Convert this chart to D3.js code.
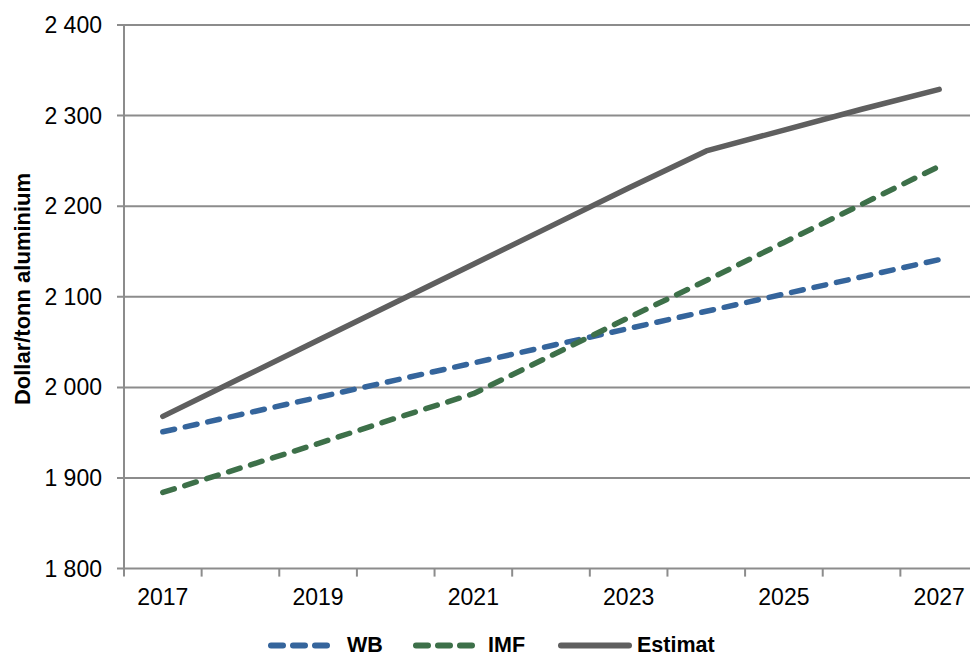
<!DOCTYPE html>
<html>
<head>
<meta charset="utf-8">
<script src="https://cdn.jsdelivr.net/npm/d3@7"></script>
<style>
  body { margin: 0; background: #fff; }
  svg { display: block; font-family: "Liberation Sans", Arial, sans-serif; }
</style>
</head>
<body>
<svg width="970" height="657"></svg>
<script>
const years = ["2017", "2018", "2019", "2020", "2021", "2022", "2023", "2024", "2025", "2026", "2027"];
const wb = [1951, 1970, 1989, 2008, 2027, 2046, 2065, 2084, 2103, 2122, 2141];
const imf = [1884, 1911, 1938, 1966, 1993, 2035, 2077, 2118, 2160, 2202, 2244];
const estimat = [1968, 2010, 2052, 2094, 2136, 2178, 2220, 2261, 2284, 2307, 2329];
const yTicks = [1800, 1900, 2000, 2100, 2200, 2300, 2400];
const xLabels = ["2017", "2019", "2021", "2023", "2025", "2027"];

const series = [
  { name: "WB", values: wb, color: "#35659c", dash: "12,11" },
  { name: "IMF", values: imf, color: "#3d7049", dash: "12,11" },
  { name: "Estimat", values: estimat, color: "#5f5f5f", dash: null }
];

const svg = d3.select("svg");
const plotLeft = 124, plotTop = 25, plotRight = 978, plotBottom = 568.6;
const gridColor = "#8c8c8c";

const x = d3.scaleBand().domain(years).range([plotLeft, plotRight]);
const y = d3.scaleLinear().domain([1800, 2400]).range([plotBottom, plotTop]);
const yFormat = v => d3.format(",")(v).replace(",", " ");

// gridlines
svg.append("g")
  .selectAll("line")
  .data(yTicks)
  .enter()
  .append("line")
  .attr("x1", plotLeft - 7)
  .attr("x2", plotRight)
  .attr("y1", d => y(d))
  .attr("y2", d => y(d))
  .attr("stroke", gridColor)
  .attr("stroke-width", 2);

// y axis line
svg.append("line")
  .attr("x1", plotLeft).attr("x2", plotLeft)
  .attr("y1", plotTop).attr("y2", plotBottom + 7)
  .attr("stroke", gridColor)
  .attr("stroke-width", 2);

// x tick marks between categories
const bounds = years.map(d => x(d)).concat([plotRight]);
svg.append("g")
  .selectAll("line")
  .data(bounds)
  .enter()
  .append("line")
  .attr("x1", d => d).attr("x2", d => d)
  .attr("y1", plotBottom).attr("y2", plotBottom + 8)
  .attr("stroke", gridColor)
  .attr("stroke-width", 2);

// y tick labels
svg.append("g")
  .selectAll("text")
  .data(yTicks)
  .enter()
  .append("text")
  .attr("x", 102)
  .attr("y", d => y(d) + 8)
  .attr("text-anchor", "end")
  .attr("font-size", 23)
  .text(d => yFormat(d));

// x labels
svg.append("g")
  .selectAll("text")
  .data(xLabels)
  .enter()
  .append("text")
  .attr("x", d => x(d) + x.bandwidth() / 2)
  .attr("y", 605)
  .attr("text-anchor", "middle")
  .attr("font-size", 23)
  .text(d => d);

// y axis title
svg.append("text")
  .attr("transform", "translate(30,289) rotate(-90)")
  .attr("text-anchor", "middle")
  .attr("font-size", 22)
  .attr("font-weight", "bold")
  .text("Dollar/tonn aluminium");

const line = d3.line()
  .x((d, i) => x(years[i]) + x.bandwidth() / 2)
  .y(d => y(d));

svg.append("g")
  .selectAll("path")
  .data(series)
  .enter()
  .append("path")
  .attr("d", d => line(d.values))
  .attr("fill", "none")
  .attr("stroke", d => d.color)
  .attr("stroke-width", 5.5)
  .attr("stroke-linecap", "round")
  .attr("stroke-linejoin", "round")
  .attr("stroke-dasharray", d => d.dash);

// legend
const legendX = [268, 413, 560];
const legend = svg.append("g")
  .selectAll("g")
  .data(series)
  .enter()
  .append("g")
  .attr("transform", (d, i) => "translate(" + legendX[i] + ",645.5)");

legend.append("line")
  .attr("x1", d => d.dash ? 3 : 1).attr("x2", d => d.dash ? 63 : 69)
  .attr("y1", 0).attr("y2", 0)
  .attr("stroke", d => d.color)
  .attr("stroke-width", 6)
  .attr("stroke-linecap", "round")
  .attr("stroke-dasharray", d => d.dash ? "12,10" : null);

legend.append("text")
  .attr("x", (d, i) => [79, 75, 77][i])
  .attr("y", 6.5)
  .attr("font-size", 21.5)
  .attr("font-weight", "bold")
  .text(d => d.name);
</script>
</body>
</html>
